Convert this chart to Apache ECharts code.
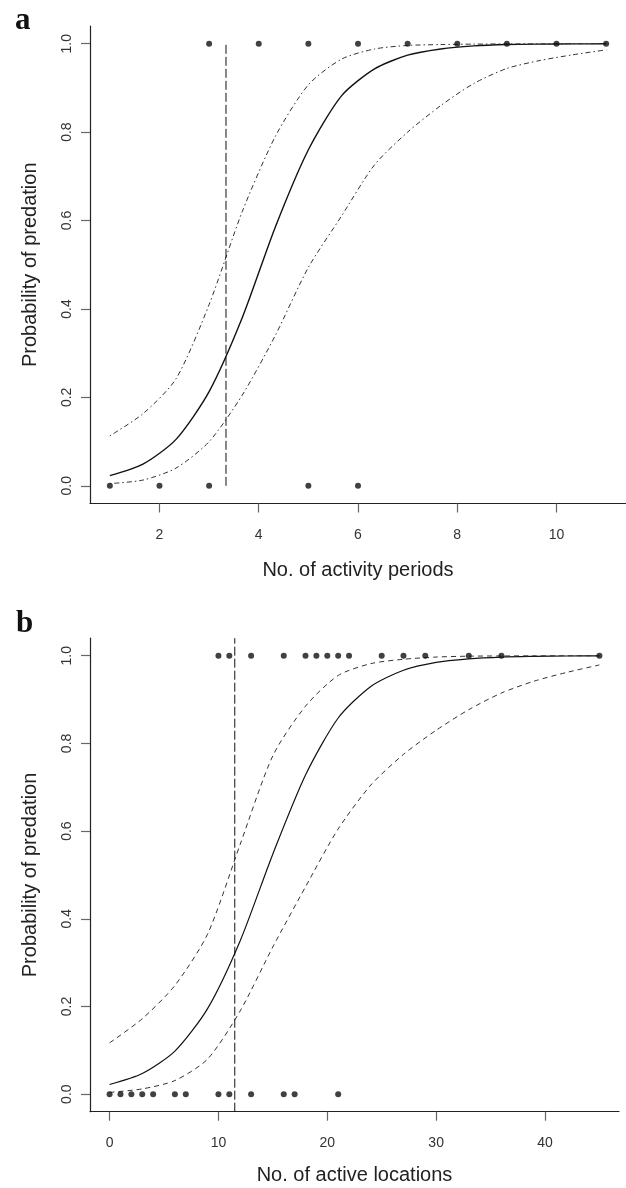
<!DOCTYPE html>
<html><head><meta charset="utf-8">
<script src="https://cdn.jsdelivr.net/npm/echarts@6/dist/echarts.min.js"></script>
<style>html,body{margin:0;padding:0;background:#fff}#c{width:626px;height:1188px}</style>
</head><body><div id="c"></div>
<script>
// ---------- Panel a data ----------
const xA      = [1, 1.667, 2.333, 3, 3.667, 4.333, 5, 5.667, 6.333, 7, 7.667, 8.333, 9, 9.667, 10.333, 11];
const fitA    = [0.023, 0.049, 0.105, 0.213, 0.38, 0.585, 0.76, 0.882, 0.943, 0.974, 0.988, 0.995, 0.998, 0.999, 0.9995, 0.9998];
const upperA  = [0.113, 0.163, 0.242, 0.41, 0.62, 0.79, 0.907, 0.965, 0.988, 0.996, 0.998, 0.999, 0.9995, 0.9997, 0.9999, 1.0];
const lowerA  = [0.005, 0.013, 0.04, 0.10, 0.205, 0.34, 0.494, 0.61, 0.726, 0.80, 0.86, 0.91, 0.944, 0.962, 0.975, 0.986];
const predA   = [3, 4, 5, 6, 7, 8, 9, 10, 11];   // observed predation (y = 1)
const survA   = [1, 2, 3, 5, 6];                 // observed survival (y = 0)
const cutA    = 3.34;
const xTicksA = [2, 4, 6, 8, 10];

// ---------- Panel b data ----------
const xB      = [0, 3, 6, 9, 12, 15, 18, 21, 24, 27, 30, 33, 36, 39, 42, 45];
const fitB    = [0.022, 0.047, 0.098, 0.195, 0.35, 0.548, 0.728, 0.858, 0.93, 0.967, 0.985, 0.993, 0.997, 0.9985, 0.9994, 0.9997];
const upperB  = [0.117, 0.172, 0.248, 0.365, 0.57, 0.772, 0.885, 0.955, 0.982, 0.992, 0.997, 0.999, 0.9995, 0.9998, 1.0, 1.0];
const lowerB  = [0.004, 0.012, 0.031, 0.08, 0.19, 0.336, 0.473, 0.605, 0.705, 0.775, 0.83, 0.877, 0.915, 0.942, 0.962, 0.979];
const predB   = [10, 11, 13, 16, 18, 19, 20, 21, 22, 25, 27, 29, 33, 36, 45];
const survB   = [0, 1, 2, 3, 4, 6, 7, 10, 11, 13, 16, 17, 21];
const cutB    = 11.5;
const xTicksB = [0, 10, 20, 30, 40];

const yTicks  = [0, 0.2, 0.4, 0.6, 0.8, 1.0];

const FONT = 'Liberation Sans';
const zip = (xs, ys) => xs.map((x, i) => [x, ys[i]]);

function xAxisCfg(gi, min, max, ticks, name, nameGap, margin) {
  return {
    type: 'value', gridIndex: gi, min: min, max: max, name: name,
    nameLocation: 'middle', nameGap: nameGap,
    nameTextStyle: { fontFamily: FONT, fontSize: 20, color: '#222' },
    axisLine: { show: true, onZero: false, lineStyle: { color: '#222', width: 1.2 } },
    axisTick: { show: true, length: 9, customValues: ticks, lineStyle: { color: '#666', width: 1.2 } },
    axisLabel: { customValues: ticks, margin: margin, fontFamily: FONT, fontSize: 14, color: '#333' },
    splitLine: { show: false }
  };
}
function yAxisCfg(gi) {
  return {
    type: 'value', gridIndex: gi, min: -0.04, max: 1.04,
    name: 'Probability of predation', nameLocation: 'middle', nameGap: 50,
    nameTextStyle: { fontFamily: FONT, fontSize: 20, color: '#222' },
    axisLine: { show: true, onZero: false, lineStyle: { color: '#222', width: 1.2 } },
    axisTick: { show: true, length: 9, customValues: yTicks, lineStyle: { color: '#666', width: 1.2 } },
    axisLabel: { customValues: yTicks, rotate: 90, margin: 16, fontFamily: FONT, fontSize: 14, color: '#333',
                 formatter: v => v.toFixed(1) },
    splitLine: { show: false }
  };
}
function lineS(xi, data, dash, color, width, smooth) {
  return { type: 'line', xAxisIndex: xi, yAxisIndex: xi, data: data, showSymbol: false, symbol: 'none',
           smooth: smooth || false, silent: true,
           lineStyle: { color: color, width: width, type: dash }, z: 2 };
}
function dotS(xi, data) {
  return { type: 'scatter', xAxisIndex: xi, yAxisIndex: xi, data: data, symbol: 'circle', symbolSize: 6,
           itemStyle: { color: '#111' }, z: 5 };
}

const option = {
  animation: false,
  backgroundColor: '#fff',
  grid: [
    { left: 90, top: 26, width: 536, height: 477.5, containLabel: false },
    { left: 90, top: 638.2, width: 529, height: 473.5, containLabel: false }
  ],
  xAxis: [
    xAxisCfg(0, 0.6, 11.4, xTicksA, 'No. of activity periods', 57, 25),
    xAxisCfg(1, -1.8, 46.8, xTicksB, 'No. of active locations', 54, 24)
  ],
  yAxis: [yAxisCfg(0), yAxisCfg(1)],
  graphic: [
    { type: 'text', left: 15, top: 5, style: { text: 'a', font: 'bold 31px "Liberation Serif"', fill: '#111' } },
    { type: 'text', left: 16, top: 608, style: { text: 'b', font: 'bold 31px "Liberation Serif"', fill: '#111' } }
  ],
  series: [
    lineS(0, zip(xA, fitA), 'solid', '#111', 1.4, 0.25),
    lineS(0, zip(xA, upperA), [1.5, 3, 5, 3], '#333', 1, 0.25),
    lineS(0, zip(xA, lowerA), [1.5, 3, 5, 3], '#333', 1, 0.25),
    lineS(0, [[cutA, 0], [cutA, 1]], [9, 3], '#111', 1),
    dotS(0, predA.map(x => [x, 1])),
    dotS(0, survA.map(x => [x, 0])),

    lineS(1, zip(xB, fitB), 'solid', '#111', 1.2, 0.25),
    lineS(1, zip(xB, upperB), [5, 4], '#333', 1, 0.25),
    lineS(1, zip(xB, lowerB), [5, 4], '#333', 1, 0.25),
    lineS(1, [[cutB, -0.04], [cutB, 1.04]], [9, 3], '#111', 1),
    dotS(1, predB.map(x => [x, 1])),
    dotS(1, survB.map(x => [x, 0]))
  ]
};
const chart = echarts.init(document.getElementById('c'), null, { renderer: 'canvas' });
chart.setOption(option);
</script></body></html>
